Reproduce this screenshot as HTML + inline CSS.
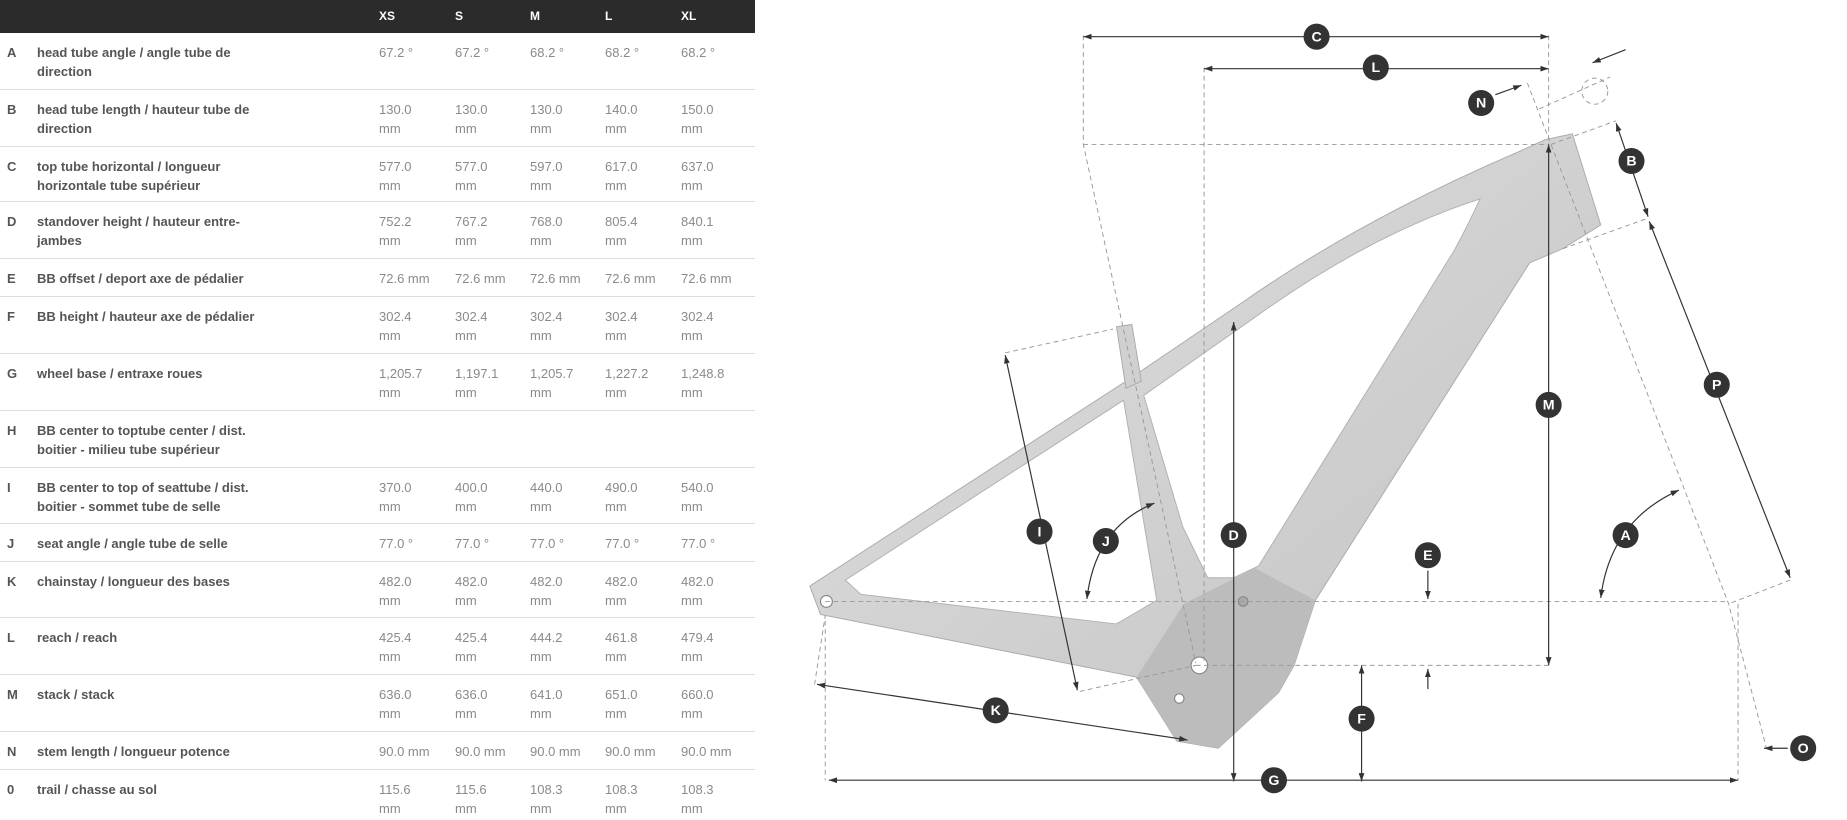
<!DOCTYPE html>
<html><head><meta charset="utf-8"><style>
body{margin:0;width:1847px;height:820px;background:#fff;position:relative;overflow:hidden;font-family:"Liberation Sans",sans-serif}
.hd{position:absolute;left:0;top:0;width:755px;height:33px;background:#2b2b2b}
.hd span{position:absolute;top:9px;color:#fff;font-weight:bold;font-size:12px}
.r{position:absolute;left:0;width:755px;border-bottom:1px solid #ddd;box-sizing:border-box}
.r div{position:absolute;top:10px;line-height:19px;font-size:13px;white-space:nowrap}
.l{left:7px;font-weight:bold;color:#555}
.t{left:37px;font-weight:bold;color:#555}
.v{color:#8a8a8a}
</style></head><body>
<div class="hd"><span style="left:379px">XS</span><span style="left:455px">S</span><span style="left:530px">M</span><span style="left:605px">L</span><span style="left:681px">XL</span></div>

<div class="r" style="top:33px;height:57px"><div class="l">A</div><div class="t">head tube angle / angle tube de<br>direction</div><div class="v" style="left:379px">67.2 °</div><div class="v" style="left:455px">67.2 °</div><div class="v" style="left:530px">68.2 °</div><div class="v" style="left:605px">68.2 °</div><div class="v" style="left:681px">68.2 °</div></div>
<div class="r" style="top:90px;height:57px"><div class="l">B</div><div class="t">head tube length / hauteur tube de<br>direction</div><div class="v" style="left:379px">130.0<br>mm</div><div class="v" style="left:455px">130.0<br>mm</div><div class="v" style="left:530px">130.0<br>mm</div><div class="v" style="left:605px">140.0<br>mm</div><div class="v" style="left:681px">150.0<br>mm</div></div>
<div class="r" style="top:147px;height:55px"><div class="l">C</div><div class="t">top tube horizontal / longueur<br>horizontale tube supérieur</div><div class="v" style="left:379px">577.0<br>mm</div><div class="v" style="left:455px">577.0<br>mm</div><div class="v" style="left:530px">597.0<br>mm</div><div class="v" style="left:605px">617.0<br>mm</div><div class="v" style="left:681px">637.0<br>mm</div></div>
<div class="r" style="top:202px;height:57px"><div class="l">D</div><div class="t">standover height / hauteur entre-<br>jambes</div><div class="v" style="left:379px">752.2<br>mm</div><div class="v" style="left:455px">767.2<br>mm</div><div class="v" style="left:530px">768.0<br>mm</div><div class="v" style="left:605px">805.4<br>mm</div><div class="v" style="left:681px">840.1<br>mm</div></div>
<div class="r" style="top:259px;height:38px"><div class="l">E</div><div class="t">BB offset / deport axe de pédalier</div><div class="v" style="left:379px">72.6 mm</div><div class="v" style="left:455px">72.6 mm</div><div class="v" style="left:530px">72.6 mm</div><div class="v" style="left:605px">72.6 mm</div><div class="v" style="left:681px">72.6 mm</div></div>
<div class="r" style="top:297px;height:57px"><div class="l">F</div><div class="t">BB height / hauteur axe de pédalier</div><div class="v" style="left:379px">302.4<br>mm</div><div class="v" style="left:455px">302.4<br>mm</div><div class="v" style="left:530px">302.4<br>mm</div><div class="v" style="left:605px">302.4<br>mm</div><div class="v" style="left:681px">302.4<br>mm</div></div>
<div class="r" style="top:354px;height:57px"><div class="l">G</div><div class="t">wheel base / entraxe roues</div><div class="v" style="left:379px">1,205.7<br>mm</div><div class="v" style="left:455px">1,197.1<br>mm</div><div class="v" style="left:530px">1,205.7<br>mm</div><div class="v" style="left:605px">1,227.2<br>mm</div><div class="v" style="left:681px">1,248.8<br>mm</div></div>
<div class="r" style="top:411px;height:57px"><div class="l">H</div><div class="t">BB center to toptube center / dist.<br>boitier - milieu tube supérieur</div></div>
<div class="r" style="top:468px;height:56px"><div class="l">I</div><div class="t">BB center to top of seattube / dist.<br>boitier - sommet tube de selle</div><div class="v" style="left:379px">370.0<br>mm</div><div class="v" style="left:455px">400.0<br>mm</div><div class="v" style="left:530px">440.0<br>mm</div><div class="v" style="left:605px">490.0<br>mm</div><div class="v" style="left:681px">540.0<br>mm</div></div>
<div class="r" style="top:524px;height:38px"><div class="l">J</div><div class="t">seat angle / angle tube de selle</div><div class="v" style="left:379px">77.0 °</div><div class="v" style="left:455px">77.0 °</div><div class="v" style="left:530px">77.0 °</div><div class="v" style="left:605px">77.0 °</div><div class="v" style="left:681px">77.0 °</div></div>
<div class="r" style="top:562px;height:56px"><div class="l">K</div><div class="t">chainstay / longueur des bases</div><div class="v" style="left:379px">482.0<br>mm</div><div class="v" style="left:455px">482.0<br>mm</div><div class="v" style="left:530px">482.0<br>mm</div><div class="v" style="left:605px">482.0<br>mm</div><div class="v" style="left:681px">482.0<br>mm</div></div>
<div class="r" style="top:618px;height:57px"><div class="l">L</div><div class="t">reach / reach</div><div class="v" style="left:379px">425.4<br>mm</div><div class="v" style="left:455px">425.4<br>mm</div><div class="v" style="left:530px">444.2<br>mm</div><div class="v" style="left:605px">461.8<br>mm</div><div class="v" style="left:681px">479.4<br>mm</div></div>
<div class="r" style="top:675px;height:57px"><div class="l">M</div><div class="t">stack / stack</div><div class="v" style="left:379px">636.0<br>mm</div><div class="v" style="left:455px">636.0<br>mm</div><div class="v" style="left:530px">641.0<br>mm</div><div class="v" style="left:605px">651.0<br>mm</div><div class="v" style="left:681px">660.0<br>mm</div></div>
<div class="r" style="top:732px;height:38px"><div class="l">N</div><div class="t">stem length / longueur potence</div><div class="v" style="left:379px">90.0 mm</div><div class="v" style="left:455px">90.0 mm</div><div class="v" style="left:530px">90.0 mm</div><div class="v" style="left:605px">90.0 mm</div><div class="v" style="left:681px">90.0 mm</div></div>
<div class="r" style="top:770px;height:50px;border:none"><div class="l">0</div><div class="t">trail / chasse au sol</div><div class="v" style="left:379px">115.6<br>mm</div><div class="v" style="left:455px">115.6<br>mm</div><div class="v" style="left:530px">108.3<br>mm</div><div class="v" style="left:605px">108.3<br>mm</div><div class="v" style="left:681px">108.3<br>mm</div></div>

<svg style="position:absolute;left:0;top:0" width="1847" height="820" viewBox="0 0 1560 692.6" preserveAspectRatio="none">
<defs>
<marker id="a" viewBox="0 0 10 10" refX="10" refY="5" markerWidth="7" markerHeight="7" orient="auto-start-reverse"><path d="M0,1.5L10,5L0,8.5z" fill="#333"/></marker>
<linearGradient id="g" x1="0" y1="0" x2="1" y2="1"><stop offset="0" stop-color="#e0e0e0"/><stop offset="1" stop-color="#c2c2c2"/></linearGradient>
</defs>
<!-- frame -->
<path d="M684,495 L951,322 L1050,255 Q1150,185 1283,128 L1305,118 L1328,113 L1352,190 L1320,210 L1292,222 L1111,507 L1093,562 L1080,585 L1029,632 L994,626 L960,572 L693,519 Z" fill="url(#g)" stroke="#aaa" stroke-width="0.8"/>
<path d="M943,276 L956,274 L964,322 L951,328 Z" fill="#d0d0d0" stroke="#aaa" stroke-width="0.8"/>
<path d="M1000,510 L1060,480 L1111,507 L1093,562 L1080,585 L1029,632 L994,626 L960,572 Z" fill="#bcbcbc"/>
<path d="M714,490 L949,338 L977,507 L943,527 L727,502 Z" fill="#fff" stroke="#b0b0b0" stroke-width="0.8"/>
<path d="M966,334 L1060,268 Q1150,203 1238,172 L1250,168 Q1240,190 1228,212 L1063,478 L1042,488 L1020,488 L999,445 Z" fill="#fff" stroke="#b0b0b0" stroke-width="0.8"/>
<circle cx="1013" cy="562" r="7" fill="#fff" stroke="#888"/>
<circle cx="698" cy="508" r="5" fill="#fff" stroke="#888"/>
<circle cx="996" cy="590" r="4" fill="#fff" stroke="#888"/>
<circle cx="1050" cy="508" r="4" fill="#aaa" stroke="#888"/>
<!-- dashed -->
<g stroke="#999" stroke-width="0.8" stroke-dasharray="4,3" fill="none">
<path d="M915,30V122L1010,560"/><path d="M1017,57V560"/><path d="M915,122H1308"/><path d="M1308,30V122"/>
<path d="M1290,70L1310,122L1460,510L1492,632"/><path d="M1300,92L1360,65"/><circle cx="1347" cy="77" r="11"/>
<path d="M1310,122L1365,102"/><path d="M1320,210L1390,185"/><path d="M1512,490L1460,510"/>
<path d="M697,508H1460"/><path d="M1010,562H1308"/><path d="M688,578L697,520V659"/><path d="M1468,510V659"/>
<path d="M849,298L940,278"/><path d="M912,584L1010,562"/>
</g>
<!-- arrows -->
<g stroke="#333" stroke-width="1" fill="none" marker-start="url(#a)" marker-end="url(#a)">
<path d="M915,31H1308"/><path d="M1017,58H1308"/><path d="M1365,104L1392,183"/><path d="M1393,187L1512,488"/>
<path d="M1308,122V562"/><path d="M1042,272V660"/><path d="M1150,562V660"/><path d="M700,659H1468"/>
<path d="M690,578L1003,625"/><path d="M849,300L910,583"/>
<path d="M1352,505Q1360,440 1418,414"/><path d="M918,506Q925,445 975,425"/>
</g>
<g stroke="#333" stroke-width="1" fill="none" marker-end="url(#a)">
<path d="M1263,80L1285,72"/><path d="M1373,42L1345,53"/><path d="M1206,482V506"/><path d="M1206,582V565"/><path d="M1510,632H1490"/>
</g>
<g font-family="Liberation Sans,sans-serif" font-weight="bold" font-size="12" fill="#fff" text-anchor="middle">
<g fill="#333"><circle cx="1112" cy="31" r="11"/><circle cx="1162" cy="57" r="11"/><circle cx="1251" cy="87" r="11"/><circle cx="1378" cy="136" r="11"/><circle cx="1450" cy="325" r="11"/><circle cx="1308" cy="342" r="11"/><circle cx="1373" cy="452" r="11"/><circle cx="1206" cy="469" r="11"/><circle cx="1042" cy="452" r="11"/><circle cx="934" cy="457" r="11"/><circle cx="878" cy="449" r="11"/><circle cx="841" cy="600" r="11"/><circle cx="1150" cy="607" r="11"/><circle cx="1076" cy="659" r="11"/><circle cx="1523" cy="632" r="11"/></g>
<text x="1112" y="35">C</text><text x="1162" y="61">L</text><text x="1251" y="91">N</text><text x="1378" y="140">B</text><text x="1450" y="329">P</text><text x="1308" y="346">M</text><text x="1373" y="456">A</text><text x="1206" y="473">E</text><text x="1042" y="456">D</text><text x="934" y="461">J</text><text x="878" y="453">I</text><text x="841" y="604">K</text><text x="1150" y="611">F</text><text x="1076" y="663">G</text><text x="1523" y="636">O</text>
</g>
</svg>
</body></html>
